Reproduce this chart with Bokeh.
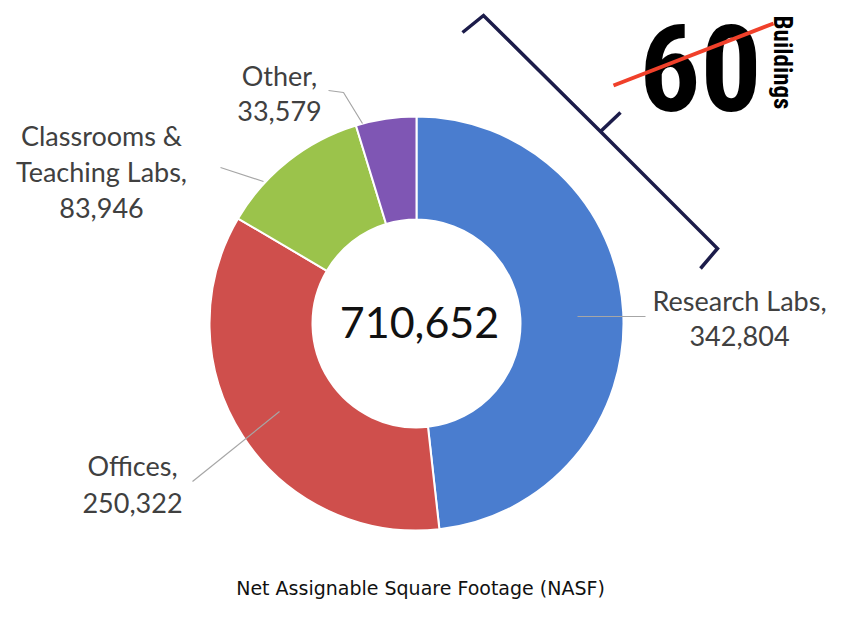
import math
from bokeh.plotting import figure
from bokeh.models import Range1d, ColumnDataSource
from bokeh.core.properties import value
from bokeh.embed import file_html
from bokeh.resources import INLINE

# ---- data ----
categories = ["Research Labs", "Offices", "Classrooms & Teaching Labs", "Other"]
nasf = [342804, 250322, 83946, 33579]
total_nasf = 710652  # total as printed in the chart centre
colors = ["#4a7dcf", "#cf4f4c", "#9bc34b", "#7f56b4"]
title_text = "Net Assignable Square Footage (NASF)"
buildings_count = 60
buildings_word = "Buildings"

# ---- layout (pixel positions of the reference) ----
W, H = 826, 601
def Y(py):
    return 617 - py

center = (416, 323)
r_in, r_out = 104, 207
TXT_SHIFT = 10  # baseline compensation for 27px text
# label: (center x, first baseline y, line spacing)
label_pos = {
    "Research Labs": (739, 310, 35),
    "Offices": (132, 475, 37),
    "Classrooms & Teaching Labs": (101, 145, 36),
    "Other": (279, 85, 35),
}
leaders = {
    "Research Labs": [(577, 316), (645, 316)],
    "Offices": [(279, 411), (192, 481)],
    "Classrooms & Teaching Labs": [(263, 181), (220, 167)],
    "Other": [(362, 123), (343, 92), (328, 90)],
}
condensed = value("'Roboto Condensed', 'DejaVu Sans Condensed', 'Liberation Sans Narrow', 'Arial Narrow', Roboto, sans-serif")

p = figure(width=W, height=H, x_range=Range1d(0, W), y_range=Range1d(617 - H, 617),
           output_backend="svg", toolbar_location=None, min_border=0)
p.axis.visible = False
p.grid.visible = False
p.outline_line_color = None
p.background_fill_color = "white"

total = sum(nasf)
starts, ends = [], []
cum = 0
for v in nasf:
    starts.append(math.pi / 2 - 2 * math.pi * cum / total)
    cum += v
    ends.append(math.pi / 2 - 2 * math.pi * cum / total)
src = ColumnDataSource(dict(cat=categories, v=nasf, start=starts, end=ends, color=colors))
p.annular_wedge(x=center[0], y=Y(center[1]), inner_radius=r_in, outer_radius=r_out,
                start_angle="start", end_angle="end", direction="clock",
                fill_color="color", line_color="white", line_width=2, source=src)

# leader lines
for cat in categories:
    pts = leaders[cat]
    p.line([q[0] for q in pts], [Y(q[1]) for q in pts], line_color="#a6a6a6", line_width=1.2)

# data labels
tx, ty, tt = [], [], []
for cat, v in zip(categories, nasf):
    if "& " in cat:
        a, b = cat.split("& ")
        lines = [a + "&", b + ","]
    else:
        lines = [cat + ","]
    lines.append(f"{v:,}")
    cx, by, sp = label_pos[cat]
    for i, ln in enumerate(lines):
        tx.append(cx)
        ty.append(Y(by + i * sp - TXT_SHIFT))
        tt.append(ln)
p.text(x=tx, y=ty, text=tt, text_align="center", text_baseline="alphabetic",
       text_font=value("Lato"), text_font_size="27px", text_color="#404040")

# center total
p.text(x=[419], y=[Y(322)], text=[f"{total_nasf:,}"], text_align="center", text_baseline="alphabetic",
       text_font=value("Lato"), text_font_size="43px", text_color="#111111")

# title
p.text(x=[420], y=[Y(587)], text=[title_text], text_align="center", text_baseline="alphabetic",
       text_font=value("DejaVu Sans"), text_font_size="19px", text_color="#111111")

# bracket
bx = [462, 483, 600, 717, 700]
by = [32, 15, 131, 248, 268]
p.line(bx, [Y(v) for v in by], line_color="#1c1c4a", line_width=3.5, line_join="miter")
p.line([600, 620], [Y(131), Y(112)], line_color="#1c1c4a", line_width=3.5)

# 60 Buildings
p.text(x=[700], y=[Y(67)], text=[str(buildings_count)], text_align="center", text_baseline="alphabetic",
       text_font=condensed, text_font_style="bold", text_font_size="121px",
       text_color="black")
p.text(x=[782], y=[Y(62)], text=[buildings_word], angle=-math.pi / 2, text_align="center",
       text_baseline="middle", text_font=condensed, text_font_style="bold",
       text_font_size="25px", text_color="black")
p.line([613, 773], [Y(85), Y(23)], line_color="#f0402a", line_width=4)

open("out.html", "w").write(file_html(p, INLINE))
